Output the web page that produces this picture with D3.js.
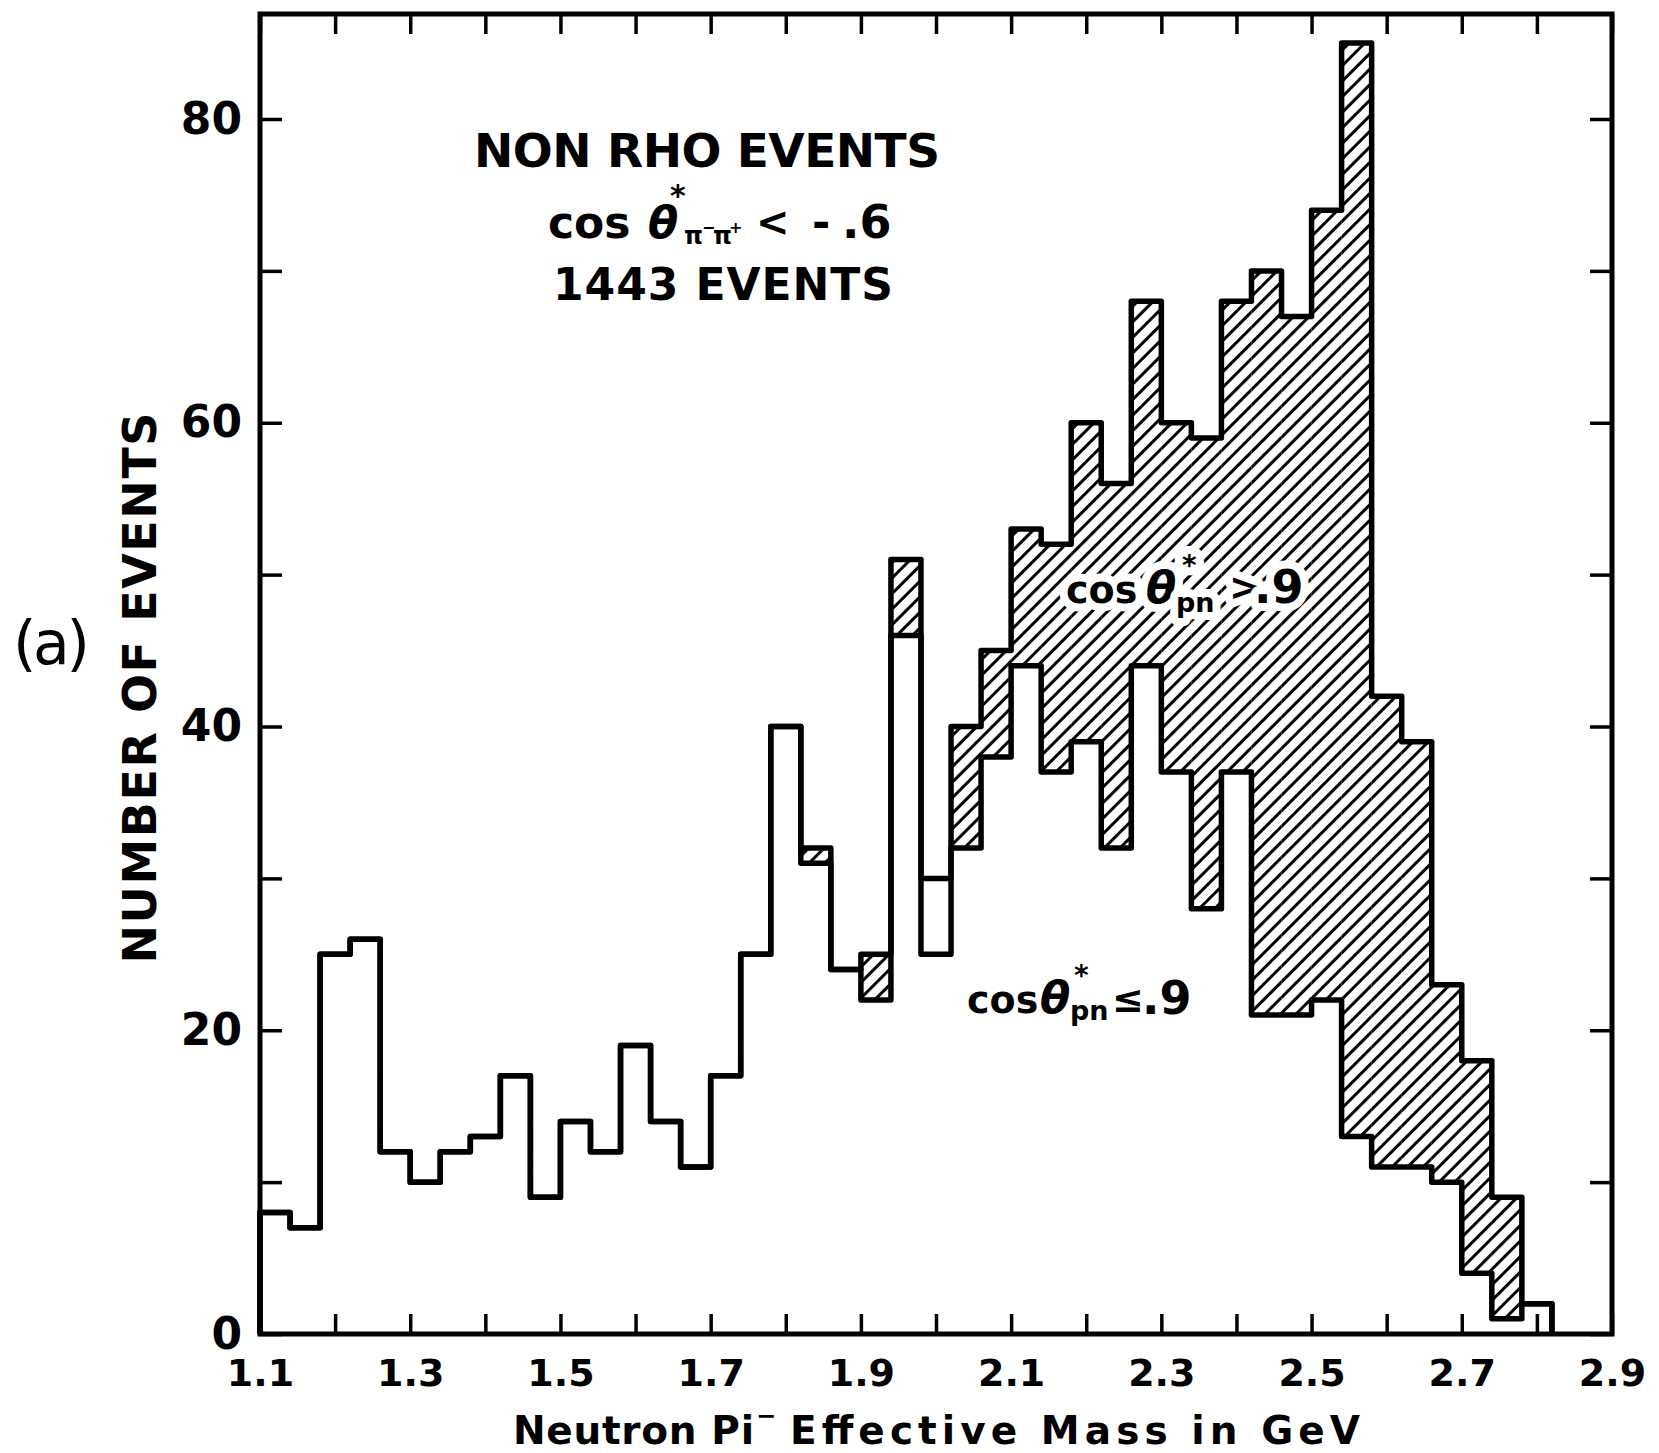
<!DOCTYPE html>
<html>
<head>
<meta charset="utf-8">
<script src="https://cdn.jsdelivr.net/npm/d3@7"></script>
<style>
  body { margin: 0; background: #fff; }
  text { font-family: "DejaVu Sans", sans-serif; font-weight: bold; fill: #000; }
</style>
</head>
<body>
<svg id="chart"></svg>
<script>
const W = 1659, H = 1453;

// neutron pi- effective mass, 0.04 GeV bins starting at 1.1 GeV
const binStart = 1.1, binWidth = 0.04;
// all events in each bin (outer histogram)
const totalCounts = [8, 7, 25, 26, 12, 10, 12, 13, 17, 9, 14, 12, 19, 14, 11, 17, 25, 40, 32, 24, 25, 51, 30,
  40, 45, 53, 52, 60, 56, 68, 60, 59, 68, 70, 67, 74, 85, 42, 39, 23, 18, 9, 2];
// events with cos theta*pn <= .9 (open part); the rest is the hatched cos theta*pn > .9 part
const lowCounts = [8, 7, 25, 26, 12, 10, 12, 13, 17, 9, 14, 12, 19, 14, 11, 17, 25, 40, 31, 24, 22, 46, 25,
  32, 38, 44, 37, 39, 32, 44, 37, 28, 37, 21, 21, 22, 13, 11, 11, 10, 4, 1, 2];
// bin whose upper part was left unshaded in the original
const openBins = [22];

const xTicks = [1.1, 1.2, 1.3, 1.4, 1.5, 1.6, 1.7, 1.8, 1.9, 2.0, 2.1, 2.2, 2.3, 2.4, 2.5, 2.6, 2.7, 2.8, 2.9];
const xTickLabels = ["1.1", "1.3", "1.5", "1.7", "1.9", "2.1", "2.3", "2.5", "2.7", "2.9"];
const yTicks = [0, 10, 20, 30, 40, 50, 60, 70, 80];
const yTickLabels = [0, 20, 40, 60, 80];

const svg = d3.select("#chart").attr("width", W).attr("height", H);

const x = d3.scaleLinear().domain([1.1, 2.9]).range([260, 1612]);
const y = d3.scaleLinear().domain([0, 80]).range([1334, 119]);
const plotTop = 14;

const bins = totalCounts.map((t, i) => ({
  index: i,
  x0: binStart + i * binWidth,
  x1: binStart + (i + 1) * binWidth,
  total: t,
  low: lowCounts[i]
}));

// hatch pattern
svg.append("defs")
  .append("pattern")
  .attr("id", "hatch")
  .attr("patternUnits", "userSpaceOnUse")
  .attr("width", 11)
  .attr("height", 11)
  .attr("patternTransform", "rotate(45)")
  .append("line")
  .attr("x1", 5.5).attr("y1", -1)
  .attr("x2", 5.5).attr("y2", 12)
  .attr("stroke", "#000")
  .attr("stroke-width", 3);

// hatched part of each bin
svg.selectAll("rect.hatch")
  .data(bins.filter((d) => d.total > d.low && !openBins.includes(d.index)))
  .enter()
  .append("rect")
  .attr("class", "hatch")
  .attr("x", (d) => x(d.x0))
  .attr("y", (d) => y(d.total))
  .attr("width", (d) => x(d.x1) - x(d.x0))
  .attr("height", (d) => y(d.low) - y(d.total))
  .attr("fill", "url(#hatch)");

// simple text
function piece(txt, px, py, size, opts = {}) {
  const t = svg.append("text")
    .attr("x", px)
    .attr("y", py)
    .style("font-size", size + "px")
    .text(txt);
  if (opts.len) t.attr("textLength", opts.len).attr("lengthAdjust", "spacing");
  if (opts.weight) t.style("font-weight", opts.weight);
  return t;
}

// one label built from placed tspans (sub/superscripts); halo clears the hatching
function formula(parts, halo) {
  const t = svg.append("text");
  parts.forEach(([txt, px, py, size, italic]) => {
    t.append("tspan")
      .attr("x", px)
      .attr("y", py)
      .style("font-size", size + "px")
      .style("font-style", italic ? "italic" : null)
      .text(txt);
  });
  if (halo) {
    t.style("stroke", "#fff")
      .style("stroke-width", halo)
      .style("stroke-linejoin", "round")
      .style("paint-order", "stroke");
  }
  return t;
}

formula([
  ["cos", 1066, 603, 38],
  ["θ", 1146, 603, 44, true],
  ["*", 1182, 575, 28],
  ["pn", 1176, 612, 27],
  [">", 1229, 600, 38],
  [".9", 1254, 603, 46]
], 16);

// step outlines
function stepPath(key) {
  const pts = [[x(binStart), y(0)]];
  bins.forEach((d) => {
    pts.push([x(d.x0), y(d[key])]);
    pts.push([x(d.x1), y(d[key])]);
  });
  pts.push([x(bins[bins.length - 1].x1), y(0)]);
  return d3.line()(pts);
}

["low", "total"].forEach((key) => {
  svg.append("path")
    .attr("d", stepPath(key))
    .attr("fill", "none")
    .attr("stroke", "#000")
    .attr("stroke-width", 5.5)
    .attr("stroke-linejoin", "round");
});

// frame
svg.append("rect")
  .attr("x", x(1.1))
  .attr("y", plotTop)
  .attr("width", x(2.9) - x(1.1))
  .attr("height", y(0) - plotTop)
  .attr("fill", "none")
  .attr("stroke", "#000")
  .attr("stroke-width", 5);

// axes: inward ticks on all four sides
const xFmt = (d) => {
  const s = d.toFixed(1);
  return xTickLabels.includes(s) ? s : "";
};
const yFmt = (d) => (yTickLabels.includes(d) ? d : "");

const gx = svg.append("g")
  .attr("transform", `translate(0,${y(0)})`)
  .call(d3.axisBottom(x).tickValues(xTicks).tickSize(-20).tickPadding(25).tickFormat(xFmt));
const gxTop = svg.append("g")
  .attr("transform", `translate(0,${plotTop})`)
  .call(d3.axisTop(x).tickValues(xTicks).tickSize(-20).tickFormat(""));
const gy = svg.append("g")
  .attr("transform", `translate(${x(1.1)},0)`)
  .call(d3.axisLeft(y).tickValues(yTicks).tickSize(-22).tickPadding(18).tickFormat(yFmt));
const gyRight = svg.append("g")
  .attr("transform", `translate(${x(2.9)},0)`)
  .call(d3.axisRight(y).tickValues(yTicks).tickSize(-22).tickFormat(""));

[gx, gxTop, gy, gyRight].forEach((g) => {
  g.select(".domain").remove();
  g.selectAll(".tick line").attr("stroke", "#000").attr("stroke-width", 3.5);
});
gx.selectAll(".tick text")
  .attr("font-family", null)
  .style("font-size", "38px")
  .attr("fill", "#000");
gy.selectAll(".tick text")
  .attr("font-family", null)
  .style("font-size", "44px")
  .attr("fill", "#000");

// axis titles
svg.append("text")
  .attr("transform", "translate(156,688) rotate(-90)")
  .attr("text-anchor", "middle")
  .attr("textLength", 551)
  .attr("lengthAdjust", "spacing")
  .style("font-size", "46px")
  .text("NUMBER OF EVENTS");

formula([
  ["Neutron Pi", 513, 1444, 39],
  ["−", 756, 1424, 24],
  ["Effective Mass in GeV", 790, 1444, 39]
]).selectAll("tspan")
  .each(function (d, i) {
    if (i === 0) d3.select(this).attr("textLength", 241).attr("lengthAdjust", "spacing");
    if (i === 2) d3.select(this).attr("textLength", 570).attr("lengthAdjust", "spacing");
  });

piece("(a)", 13, 664, 60, { len: 77, weight: "normal" });

// annotation block
piece("NON RHO EVENTS", 474, 167, 47, { len: 466 });
formula([
  ["cos", 548, 238, 44],
  ["θ", 648, 238, 44, true],
  ["*", 670, 206, 30],
  ["π", 684, 244, 24],
  ["−", 702, 233, 16],
  ["π", 713, 244, 24],
  ["+", 729, 233, 16],
  ["<", 756, 236, 40],
  ["-", 812, 238, 44],
  [".6", 842, 238, 46]
]);
piece("1443 EVENTS", 553, 300, 44, { len: 340 });

formula([
  ["cos", 967, 1013, 38],
  ["θ", 1040, 1013, 44, true],
  ["*", 1074, 985, 28],
  ["pn", 1070, 1020, 27],
  ["≤", 1112, 1012, 38],
  [".9", 1142, 1014, 46]
]);
</script>
</body>
</html>
